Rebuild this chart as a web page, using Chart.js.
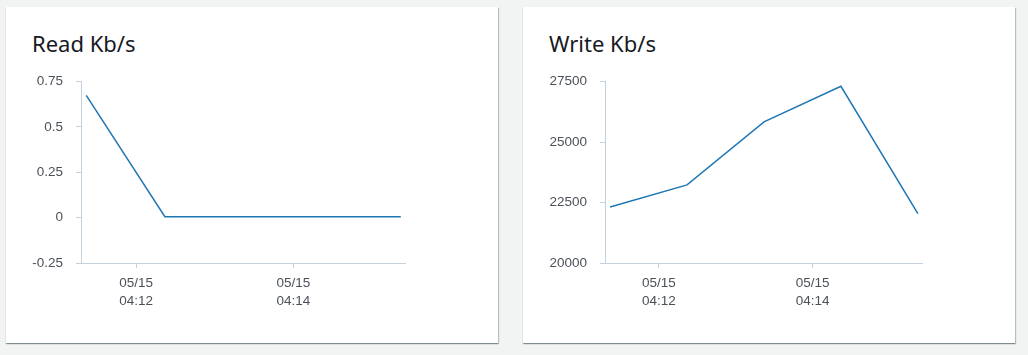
<!DOCTYPE html>
<html>
<head>
<meta charset="utf-8">
<script src="https://cdn.jsdelivr.net/npm/chart.js@4/dist/chart.umd.min.js"></script>
<style>
  html, body { margin: 0; padding: 0; background: #f2f3f3; width: 1028px; height: 355px; overflow: hidden; }
  .card { position: absolute; top: 7px; width: 492px; height: 336px; background: #fff;
          box-shadow: 0 1px 1px 0 rgba(0,28,36,0.35), 1px 1px 1px 0 rgba(0,28,36,0.2); }
  .title { position: absolute; left: 26px; top: 25px; font-family: "Noto Sans", "Open Sans", sans-serif;
           font-size: 22px; line-height: 22px; color: #16191f; white-space: nowrap; }
  canvas { position: absolute; }
</style>
</head>
<body>
<div class="card" style="left:6px"><div class="title">Read Kb/s</div></div>
<div class="card" style="left:523px"><div class="title">Write Kb/s</div></div>
<canvas id="c1" width="386" height="248" style="left:20px; top:60px;"></canvas>
<canvas id="c2" width="393" height="248" style="left:530px; top:60px;"></canvas>
<script>
const times = ["04:11:22", "04:12:22", "04:13:22", "04:14:22", "04:15:22"];
const readValues = [0.674, 0.005, 0.005, 0.005, 0.005];
const writeValues = [22316, 23232, 25835, 27308, 22046];
const xTickTimes = ["04:12", "04:14"];
const xTickDate = "05/15";
const readTicks = [-0.25, 0, 0.25, 0.5, 0.75];
const writeTicks = [20000, 22500, 25000, 27500];

function toMin(t) {
  const p = t.split(":").map(Number);
  return p[0] * 60 + p[1] + (p[2] || 0) / 60;
}
const xs = times.map(toMin);
const xTickVals = xTickTimes.map(toMin);
const pad = 4 / 60;

function makeChart(id, values, yTicks, yWidth) {
  const axisColor = "#c5d0de";
  const tickFont = { family: "'Liberation Sans', Arial, sans-serif", size: 13.5, lineHeight: 1.28 };
  new Chart(document.getElementById(id), {
    type: "line",
    data: {
      datasets: [{
        data: xs.map((x, i) => ({ x: x, y: values[i] })),
        borderColor: "#1f77b4",
        borderWidth: 1.5,
        pointRadius: 0,
        tension: 0,
        fill: false
      }]
    },
    options: {
      responsive: false,
      animation: false,
      devicePixelRatio: 1,
      layout: { padding: 0 },
      plugins: { legend: { display: false }, tooltip: { enabled: false } },
      scales: {
        x: {
          type: "linear",
          min: xs[0] - pad,
          max: xs[xs.length - 1] + pad,
          afterBuildTicks: s => { s.ticks = xTickVals.map(v => ({ value: v })); },
          afterFit: s => { s.height = 45; },
          grid: { drawOnChartArea: false, drawTicks: true, tickLength: 5, color: axisColor },
          border: { color: axisColor, width: 1 },
          ticks: {
            color: "#4b5159", font: tickFont, padding: 7, maxRotation: 0, autoSkip: false,
            callback: v => {
              const i = xTickVals.findIndex(t => Math.abs(t - v) < 1e-6);
              return [xTickDate, xTickTimes[i]];
            }
          }
        },
        y: {
          min: yTicks[0],
          max: yTicks[yTicks.length - 1],
          afterBuildTicks: s => { s.ticks = yTicks.map(v => ({ value: v })); },
          afterFit: s => { s.width = yWidth; },
          grid: { drawOnChartArea: false, drawTicks: true, tickLength: 5, color: axisColor },
          border: { color: axisColor, width: 1 },
          ticks: { color: "#4b5159", font: tickFont, padding: 13, callback: v => String(v) }
        }
      }
    }
  });
}
makeChart("c1", readValues, readTicks, 61);
makeChart("c2", writeValues, writeTicks, 75);
</script>
</body>
</html>
